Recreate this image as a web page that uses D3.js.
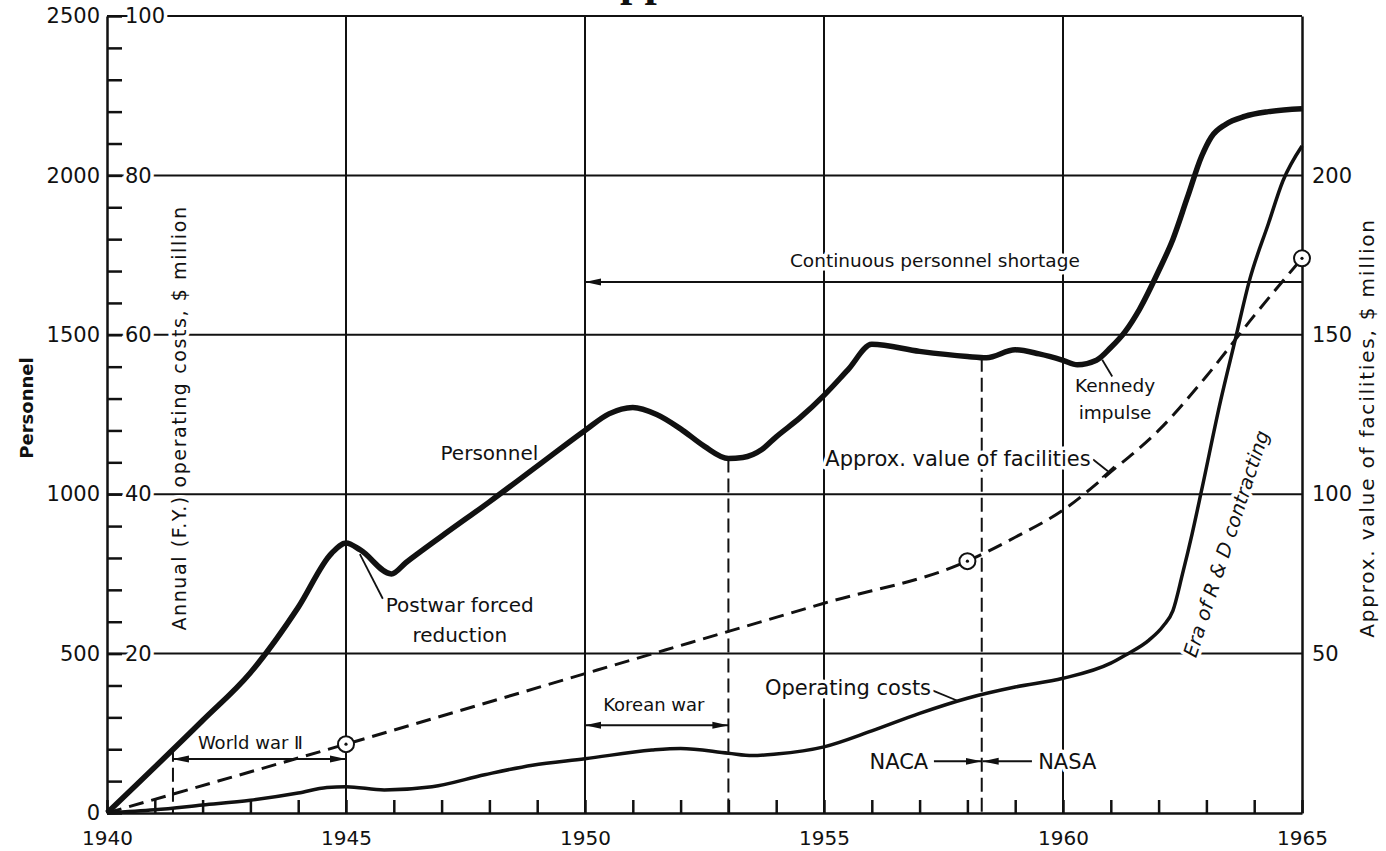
<!DOCTYPE html>
<html>
<head>
<meta charset="utf-8">
<script src="https://cdn.jsdelivr.net/npm/d3@7"></script>
<style>
  body { margin: 0; background: #fff; }
  text { font-family: "DejaVu Sans", sans-serif; fill: #111; }
  .halo { paint-order: stroke; stroke: #fff; stroke-width: 7px; stroke-linejoin: round; }
</style>
</head>
<body>
<script>
// personnel (left axis, people)
var personnelYears = [1940, 1942, 1943, 1944, 1944.7, 1945, 1945.3, 1945.95, 1946.25,
  1947, 1948, 1949, 1950, 1950.5, 1951, 1951.5, 1952, 1952.5, 1953, 1953.3, 1953.7, 1954, 1954.5,
  1955, 1955.5, 1956, 1957, 1958, 1958.4, 1959, 1959.5, 1960, 1960.3, 1960.7, 1961, 1961.3,
  1961.6, 1962, 1962.3, 1962.6, 1962.9, 1963.1, 1963.4, 1963.8, 1964.3, 1965];
var personnelValues = [0, 290, 440, 645, 815, 847, 825, 750, 785,
  868, 976, 1088, 1200, 1252, 1272, 1250, 1205, 1150, 1112, 1115, 1140, 1180, 1240,
  1310, 1390, 1470, 1448, 1432, 1428, 1453, 1440, 1420, 1406, 1420, 1460, 1510,
  1580, 1700, 1800, 1930, 2060, 2120, 2160, 2185, 2200, 2209];

// annual operating costs, $ million
var costYears = [1940, 1941, 1942, 1943, 1944, 1944.6, 1945, 1945.8, 1946.8, 1947.9, 1948.9, 1950,
  1951.4, 1952, 1953, 1953.5, 1954, 1955, 1956, 1957, 1958, 1959, 1960, 1961, 1961.3, 1961.8,
  1962.1, 1962.3, 1962.5, 1962.7, 1962.9, 1963.3, 1963.6, 1963.9, 1964.3, 1964.6, 1965];
var costValues = [0, 0.4, 1.0, 1.6, 2.5, 3.2, 3.3, 2.9, 3.3, 4.8, 6.0, 6.8,
  7.9, 8.1, 7.5, 7.2, 7.4, 8.3, 10.3, 12.5, 14.4, 15.8, 16.9, 18.8, 19.8, 21.7,
  23.5, 25.4, 30, 35, 40.5, 51.8, 59.3, 66.8, 74, 79.3, 83.7];

// approx. value of facilities, $ million
var facilityYears = [1940, 1945, 1950, 1955, 1958, 1959, 1960, 1961, 1962, 1963, 1964, 1965];
var facilityValues = [0, 21.6, 43.7, 65.8, 79, 86.5, 95, 107, 120, 137, 156, 174];
var facilityMarkerYears = [1945, 1958, 1965];

// tick labels
var yearTicks = [1940, 1945, 1950, 1955, 1960, 1965];
var personnelTicks = [0, 500, 1000, 1500, 2000, 2500];
var costTicks = [20, 40, 60, 80, 100];
var facilityTicks = [50, 100, 150, 200];

// events: dashed verticals (year, personnel at top)
var eventYears = [1941.38, 1953, 1958.3];
var eventTops = [205, 1112, 1428];

var width = 1386, height = 851;

var svg = d3.select('body').append('svg')
  .attr('width', width)
  .attr('height', height);

var x = d3.scaleLinear().domain([1940, 1965]).range([107, 1302]);
var yP = d3.scaleLinear().domain([0, 2500]).range([813, 16]);
var yC = d3.scaleLinear().domain([0, 100]).range([813, 16]);
var yF = d3.scaleLinear().domain([0, 250]).range([813, 16]);

function pt(yr, p) { return [x(yr), yP(p)]; }

//arrow heads
var defs = svg.append('defs');
defs.append('marker')
  .attr('id', 'arr')
  .attr('viewBox', '0 -4 16 8')
  .attr('refX', 16).attr('refY', 0)
  .attr('markerUnits', 'userSpaceOnUse')
  .attr('markerWidth', 16).attr('markerHeight', 8)
  .attr('orient', 'auto-start-reverse')
  .append('path')
  .attr('d', 'M0,-3.5L16,0L0,3.5Z')
  .attr('fill', '#111');

//grid
var grid = svg.append('g').attr('stroke', '#111').attr('stroke-width', 2);
grid.selectAll('line.h')
  .data(personnelTicks.slice(1))
  .enter().append('line')
  .attr('x1', x(1940)).attr('x2', x(1965))
  .attr('y1', function(d) { return yP(d); })
  .attr('y2', function(d) { return yP(d); });
grid.selectAll('line.v')
  .data(yearTicks.slice(1, -1))
  .enter().append('line')
  .attr('x1', function(d) { return x(d); })
  .attr('x2', function(d) { return x(d); })
  .attr('y1', yP(2500)).attr('y2', yP(0));

//dashed event lines
svg.append('g').selectAll('line')
  .data(eventYears)
  .enter().append('line')
  .attr('x1', function(d) { return x(d); })
  .attr('x2', function(d) { return x(d); })
  .attr('y1', function(d, i) { return yP(eventTops[i]); })
  .attr('y2', yP(0))
  .attr('stroke', '#111')
  .attr('stroke-width', 2)
  .attr('stroke-dasharray', '14,6');

//axes
var fmt = d3.format('d');
function styleAxis(g, size) {
  g.attr('font-family', null).attr('font-size', null);
  g.selectAll('text').style('font-size', size + 'px').attr('fill', '#111');
  g.selectAll('path, line').attr('stroke', '#111').attr('stroke-width', 2.5);
}

var leftTicks = svg.append('g')
  .attr('transform', 'translate(' + x(1940) + ',0)')
  .call(d3.axisRight(yP).tickValues(d3.range(0, 2501, 100)).tickSize(15).tickSizeOuter(0).tickFormat(''));
styleAxis(leftTicks, 20);

var leftLabels = svg.append('g')
  .attr('transform', 'translate(' + x(1940) + ',0)')
  .call(d3.axisLeft(yP).tickValues(personnelTicks).tickSize(0).tickPadding(7).tickFormat(fmt));
leftLabels.select('.domain').remove();
styleAxis(leftLabels, 21);

var costLabels = svg.append('g')
  .attr('transform', 'translate(' + x(1940) + ',0)')
  .call(d3.axisRight(yC).tickValues(costTicks).tickSize(0).tickPadding(18).tickFormat(fmt));
costLabels.select('.domain').remove();
styleAxis(costLabels, 21);
costLabels.selectAll('text').attr('class', 'halo');

var bottomTicks = svg.append('g')
  .attr('transform', 'translate(0,' + yP(0) + ')')
  .call(d3.axisTop(x).tickValues(d3.range(1940, 1966)).tickSize(13).tickSizeOuter(0).tickFormat(''));
styleAxis(bottomTicks, 20);

var bottomLabels = svg.append('g')
  .attr('transform', 'translate(0,' + yP(0) + ')')
  .call(d3.axisBottom(x).tickValues(yearTicks).tickSize(0).tickPadding(18).tickFormat(fmt));
bottomLabels.select('.domain').remove();
styleAxis(bottomLabels, 20);

var rightAxis = svg.append('g')
  .attr('transform', 'translate(' + x(1965) + ',0)')
  .call(d3.axisRight(yF).tickValues(facilityTicks).tickSize(0).tickSizeOuter(0).tickPadding(10).tickFormat(fmt));
styleAxis(rightAxis, 21);

//axis titles
svg.append('text')
  .attr('class', 'halo')
  .attr('transform', 'translate(33,408) rotate(-90)')
  .attr('text-anchor', 'middle')
  .style('font-size', '18px').style('font-weight', 'bold')
  .text('Personnel');
svg.append('text')
  .attr('class', 'halo')
  .attr('transform', 'translate(186,418) rotate(-90)')
  .attr('text-anchor', 'middle')
  .style('font-size', '19px')
  .style('letter-spacing', '1.6px')
  .text('Annual (F.Y.) operating costs,  $ million');
svg.append('text')
  .attr('transform', 'translate(1374,428) rotate(-90)')
  .attr('text-anchor', 'middle')
  .style('font-size', '20px')
  .style('letter-spacing', '1.8px')
  .text('Approx. value of facilities,  $ million');

//cut-off title at the very top
svg.append('text')
  .attr('x', 620).attr('y', -4)
  .style('font-family', '"Liberation Serif", serif')
  .style('font-weight', 'bold')
  .style('font-size', '44px')
  .text('pp');

//arrows
var arrows = [
  { from: 1965, to: 1950, p: 1666, heads: 'end' },
  { from: 1941.38, to: 1945, p: 169, heads: 'both' },
  { from: 1950, to: 1953, p: 275, heads: 'both' },
  { from: 1957.3, to: 1958.3, p: 162, heads: 'end' },
  { from: 1959.35, to: 1958.32, p: 162, heads: 'end' }
];
svg.append('g').selectAll('line')
  .data(arrows)
  .enter().append('line')
  .attr('x1', function(d) { return x(d.from); })
  .attr('x2', function(d) { return x(d.to); })
  .attr('y1', function(d) { return yP(d.p); })
  .attr('y2', function(d) { return yP(d.p); })
  .attr('stroke', '#111')
  .attr('stroke-width', 2)
  .attr('marker-end', 'url(#arr)')
  .attr('marker-start', function(d) { return d.heads === 'both' ? 'url(#arr)' : null; });

//leader lines
var leaders = [
  [pt(1945.77, 672), pt(1945.29, 812)],
  [pt(1957.28, 384), pt(1957.78, 353)],
  [pt(1960.63, 1109), pt(1960.94, 1072)],
  [pt(1960.82, 1053), pt(1961.07, 1087)],
  [pt(1961.03, 1369), pt(1960.82, 1422)]
];
svg.append('g').selectAll('path')
  .data(leaders)
  .enter().append('path')
  .attr('d', d3.line())
  .attr('fill', 'none')
  .attr('stroke', '#111')
  .attr('stroke-width', 1.8);

//annotation text
var notes = [
  { t: 'Continuous personnel shortage', yr: 1957.32, p: 1712, a: 'middle', s: 18.5 },
  { t: 'World war \u2161', yr: 1943.0, p: 200, a: 'middle', s: 18 },
  { t: 'Korean war', yr: 1951.44, p: 319, a: 'middle', s: 18 },
  { t: 'Personnel', yr: 1948.0, p: 1106, a: 'middle', s: 20 },
  { t: 'Postwar forced', yr: 1947.38, p: 630, a: 'middle', s: 20 },
  { t: 'reduction', yr: 1947.38, p: 537, a: 'middle', s: 20 },
  { t: 'Operating costs', yr: 1957.24, p: 369, a: 'end', s: 21 },
  { t: 'Approx. value of facilities', yr: 1960.58, p: 1087, a: 'end', s: 21 },
  { t: 'Kennedy', yr: 1961.09, p: 1322, a: 'middle', s: 18.5 },
  { t: 'impulse', yr: 1961.09, p: 1237, a: 'middle', s: 18.5 },
  { t: 'NACA', yr: 1957.18, p: 137, a: 'end', s: 21 },
  { t: 'NASA', yr: 1959.48, p: 137, a: 'start', s: 21 }
];
svg.append('g').selectAll('text')
  .data(notes)
  .enter().append('text')
  .attr('class', 'halo')
  .attr('x', function(d) { return x(d.yr); })
  .attr('y', function(d) { return yP(d.p); })
  .attr('text-anchor', function(d) { return d.a; })
  .style('font-size', function(d) { return d.s + 'px'; })
  .text(function(d) { return d.t; });

svg.append('text')
  .attr('class', 'halo')
  .attr('transform', 'translate(' + x(1963.55) + ',' + yP(838) + ') rotate(-72)')
  .attr('text-anchor', 'middle')
  .style('font-size', '19.5px')
  .style('font-style', 'italic')
  .text('Era of R & D contracting');

//curves
var lineP = d3.line()
  .x(function(d, i) { return x(personnelYears[i]); })
  .y(function(d) { return yP(d); })
  .curve(d3.curveMonotoneX);
var lineC = d3.line()
  .x(function(d, i) { return x(costYears[i]); })
  .y(function(d) { return yC(d); })
  .curve(d3.curveMonotoneX);
var lineF = d3.line()
  .x(function(d, i) { return x(facilityYears[i]); })
  .y(function(d) { return yF(d); })
  .curve(d3.curveMonotoneX);

svg.append('path')
  .datum(facilityValues)
  .attr('d', lineF)
  .attr('fill', 'none')
  .attr('stroke', '#111')
  .attr('stroke-width', 3)
  .attr('stroke-dasharray', '15,8');

svg.append('path')
  .datum(costValues)
  .attr('d', lineC)
  .attr('fill', 'none')
  .attr('stroke', '#111')
  .attr('stroke-width', 3.5)
  .attr('stroke-linejoin', 'round');

svg.append('path')
  .datum(personnelValues)
  .attr('d', lineP)
  .attr('fill', 'none')
  .attr('stroke', '#111')
  .attr('stroke-width', 5.5)
  .attr('stroke-linejoin', 'round');

//facility markers
var mk = svg.append('g').selectAll('g')
  .data(facilityMarkerYears)
  .enter().append('g')
  .attr('transform', function(d) {
    return 'translate(' + x(d) + ',' + yF(facilityValues[facilityYears.indexOf(d)]) + ')';
  });
mk.append('circle').attr('r', 8).attr('fill', '#fff').attr('stroke', '#111').attr('stroke-width', 2);
mk.append('circle').attr('r', 1.6).attr('fill', '#111');
</script>
</body>
</html>
